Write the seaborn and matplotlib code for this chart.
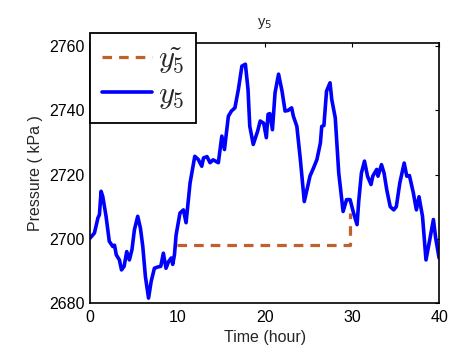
import matplotlib
matplotlib.use('Agg')
import matplotlib.pyplot as plt
import pandas as pd
import seaborn as sns
from matplotlib.font_manager import FontProperties

time_h = [0.0, 0.5, 0.9, 1.07, 1.26, 1.45, 1.83, 2.2, 2.6, 2.8, 3.0, 3.36, 3.6, 3.9,
          4.2, 4.5, 4.8, 5.08, 5.46, 5.77, 6.04, 6.34, 6.7, 7.0, 7.37, 7.75, 8.1,
          8.4, 8.7, 9.0, 9.3, 9.47, 9.67, 9.86, 10.3, 10.7, 11.0, 11.46, 12.0,
          12.4, 12.8, 13.0, 13.4, 13.75, 14.1, 14.7, 15.1, 15.4, 15.85, 16.2,
          16.6, 17.0, 17.4, 17.8, 18.1, 18.3, 18.7, 19.2, 19.5, 19.9, 20.2, 20.4,
          20.6, 20.9, 21.2, 21.6, 22.0, 22.35, 22.7, 23.1, 23.3, 23.7, 24.1,
          24.55, 24.95, 25.2, 25.6, 26.0, 26.4, 26.55, 26.8, 27.1, 27.5, 27.7,
          28.1, 28.5, 29.0, 29.4, 29.8, 30.2, 30.6, 30.8, 31.1, 31.45, 31.8,
          32.2, 32.4, 32.85, 33.0, 33.4, 33.7, 34.0, 34.4, 34.8, 35.1, 35.5,
          36.0, 36.3, 36.6, 37.05, 37.4, 37.7, 38.1, 38.5, 39.0, 39.35, 39.6, 40.0]
pressure = [2700.2, 2701.8, 2706.5, 2707.5, 2714.8, 2713.2, 2707.0, 2699.2, 2697.6,
            2698.0, 2695.0, 2693.4, 2690.3, 2691.4, 2696.0, 2693.4, 2696.6, 2702.8,
            2707.0, 2703.3, 2697.6, 2688.2, 2681.5, 2686.7, 2690.8, 2691.2, 2691.4,
            2695.5, 2690.8, 2692.9, 2694.0, 2692.0, 2695.0, 2701.2, 2708.0, 2709.0,
            2705.0, 2717.4, 2725.7, 2724.7, 2722.6, 2725.2, 2725.6, 2723.7, 2724.6,
            2723.7, 2732.0, 2727.8, 2738.2, 2739.8, 2740.8, 2746.6, 2753.8, 2754.4,
            2746.6, 2735.1, 2729.4, 2733.5, 2736.7, 2736.0, 2731.5, 2738.8, 2739.0,
            2734.0, 2745.5, 2751.3, 2746.0, 2739.8, 2740.0, 2740.8, 2738.2, 2735.0,
            2724.7, 2711.6, 2716.4, 2719.5, 2722.0, 2724.7, 2729.9, 2735.0, 2735.3,
            2746.0, 2748.6, 2743.4, 2737.7, 2720.5, 2708.5, 2712.2, 2712.2, 2708.0,
            2704.4, 2712.0, 2720.5, 2724.2, 2719.5, 2716.9, 2719.5, 2721.6, 2719.5,
            2723.1, 2720.4, 2715.3, 2710.0, 2709.0, 2710.0, 2717.4, 2723.6, 2719.5,
            2719.7, 2714.3, 2709.0, 2713.1, 2707.0, 2693.4, 2700.7, 2706.0, 2700.4,
            2694.0]

# estimate y5 tilde (step)
est_time = [10.0, 29.8, 29.8]
est_pressure = [2698.0, 2698.0, 2708.0]

x_ticks = [0, 10, 20, 30, 40]
y_ticks = [2680, 2700, 2720, 2740, 2760]

df_meas = pd.DataFrame({'time': time_h, 'pressure': pressure})
df_est = pd.DataFrame({'time': est_time, 'pressure': est_pressure})

sns.set_style('white')
plt.rcParams['font.family'] = ['Liberation Sans', 'DejaVu Sans']

fig = plt.figure(figsize=(4.55, 3.47), dpi=100)
ax = fig.add_axes([0.198, 0.127, 0.767, 0.749])

sns.lineplot(data=df_est, x='time', y='pressure', estimator=None, sort=False,
             color='#C0602A', linestyle=(0, (3, 2.2)), linewidth=2.3,
             label=r'$\tilde{y_5}$', ax=ax)
sns.lineplot(data=df_meas, x='time', y='pressure', estimator=None, sort=False,
             color='#0000FF', linewidth=2.6, label=r'$y_5$', ax=ax)

ax.set_xlim(0, 40)
ax.set_ylim(2680, 2761)
ax.set_xticks(x_ticks)
ax.set_yticks(y_ticks)
ax.tick_params(direction='in', length=3, width=0.8, top=True, right=True,
               labelsize=11.5, colors='black', pad=4)
ax.tick_params(axis='x', pad=5)
for s in ax.spines.values():
    s.set_color('black')
    s.set_linewidth(1.2)

ax.set_xlabel('Time (hour)', fontsize=11.5, labelpad=4)
ax.set_ylabel('Pressure ( kPa )', fontsize=11.5, labelpad=4)
ax.set_title('y$_5$', fontsize=10.5, pad=12)

leg = ax.legend(loc='upper left', bbox_to_anchor=(0.198, 0.905),
                bbox_transform=fig.transFigure,
                prop=FontProperties(size=22, math_fontfamily='cm'),
                handlelength=1.65, handletextpad=0.2, borderpad=0.38,
                labelspacing=0.15, borderaxespad=0, fancybox=False,
                framealpha=1, edgecolor='black')
leg.get_frame().set_linewidth(1.3)

fig.savefig('out.png', dpi=100)
